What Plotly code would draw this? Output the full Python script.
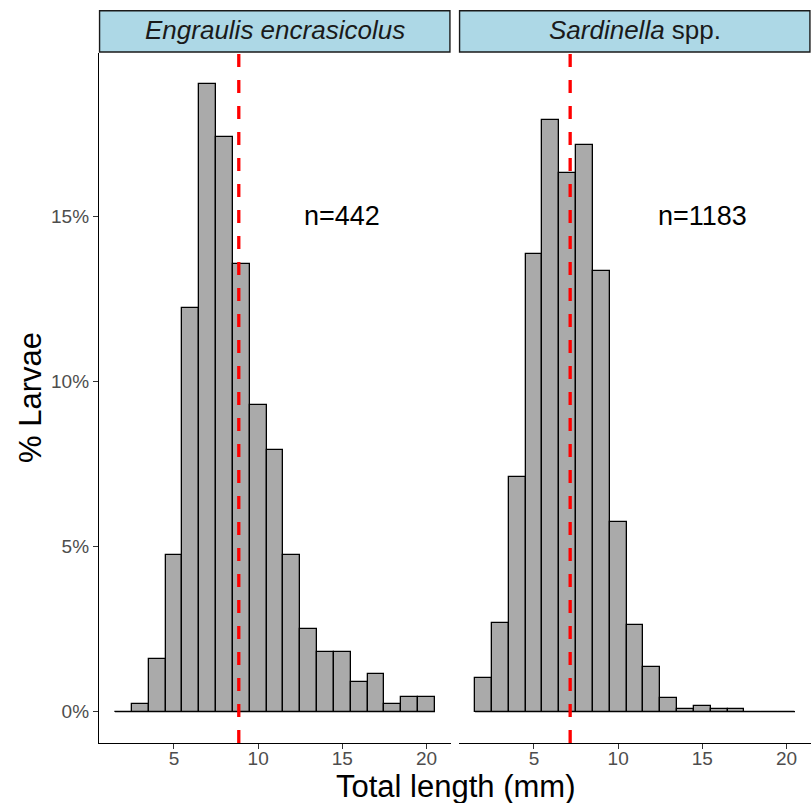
import plotly.graph_objects as go

# ---- data ----
lengths_mm = [2, 3, 4, 5, 6, 7, 8, 9, 10, 11, 12, 13, 14, 15, 16, 17, 18, 19, 20]
engraulis_pct = [0, 0.23, 1.58, 4.75, 12.22, 19.00, 17.42, 13.57, 9.28, 7.92,
                 4.75, 2.49, 1.81, 1.81, 0.90, 1.13, 0.23, 0.45, 0.45]
sardinella_pct = [1.01, 2.70, 7.10, 13.86, 17.92, 16.31, 17.16, 13.36, 5.75, 2.62,
                  1.35, 0.42, 0.08, 0.17, 0.08, 0.08, 0, 0, 0]
species_labels = ["<i>Engraulis encrasicolus</i>", "<i>Sardinella</i> spp."]
n_labels = ["n=442", "n=1183"]
mean_lengths = [8.85, 7.15]
x_ticks = [5, 10, 15, 20]
y_ticks = [0, 5, 10, 15]
y_tick_labels = ["0%", "5%", "10%", "15%"]

FONT = "Liberation Sans, Arial, sans-serif"
BAR_FILL = "#AAAAAA"

fig = go.Figure()

panels = [("x", "y", engraulis_pct), ("x2", "y2", sardinella_pct)]
edge_lo = lengths_mm[0] - 0.5
edge_hi = lengths_mm[-1] + 0.5
for xa, ya, vals in panels:
    fig.add_trace(go.Scatter(x=[edge_lo, edge_hi], y=[0, 0], mode="lines",
                             line=dict(color="black", width=1.3),
                             xaxis=xa, yaxis=ya, showlegend=False, hoverinfo="skip"))
    fig.add_trace(go.Bar(x=lengths_mm, y=vals, width=1,
                         marker=dict(color=BAR_FILL, line=dict(color="black", width=1.3)),
                         xaxis=xa, yaxis=ya, showlegend=False))

x_range = [0.55, 21.45]
y_range = [-0.95, 19.95]
dom_left = [0, 352 / 712]
dom_right = [360 / 712, 1]

axis_common = dict(range=x_range, tickvals=x_ticks, ticks="outside", ticklen=5,
                   tickcolor="#333333", tickwidth=1.2, showline=True, linecolor="black",
                   linewidth=1.3, showgrid=False, zeroline=False, ticklabelstandoff=-7,
                   tickfont=dict(family=FONT, size=19, color="#4D4D4D"))

fig.update_layout(
    width=811, height=803,
    margin=dict(l=99, r=0, t=53, b=60),
    paper_bgcolor="white", plot_bgcolor="white",
    bargap=0,
    xaxis=dict(domain=dom_left, anchor="y", **axis_common),
    xaxis2=dict(domain=dom_right, anchor="y2", **axis_common),
    yaxis=dict(range=y_range, tickmode="array", tickvals=y_ticks, ticktext=y_tick_labels,
               ticks="outside", ticklen=5,
               tickcolor="#333333", tickwidth=1.2, showline=True, linecolor="black",
               linewidth=1.3, showgrid=False, zeroline=False,
               tickfont=dict(family=FONT, size=19, color="#4D4D4D")),
    yaxis2=dict(range=y_range, anchor="x2", visible=False, showgrid=False, zeroline=False),
)

shapes = []
annotations = []
for i, (xa, ya, vals) in enumerate(panels):
    dom = dom_left if i == 0 else dom_right
    shapes.append(dict(type="line", xref=xa, yref=f"{ya} domain",
                       x0=mean_lengths[i], x1=mean_lengths[i], y0=0, y1=1,
                       line=dict(color="#FF0000", width=3.3, dash="13px,13px")))
    shapes.append(dict(type="rect", xref="paper", yref="paper",
                       x0=dom[0] + 0.0008, x1=dom[1] - 0.0015, y0=1.0015, y1=1.0613,
                       fillcolor="#ADD8E6", line=dict(color="#1a1a1a", width=1.4)))
    annotations.append(dict(text=species_labels[i], xref="paper", yref="paper",
                            x=(dom[0] + dom[1]) / 2, y=1.0339, xanchor="center",
                            yanchor="middle", showarrow=False,
                            font=dict(family=FONT, size=26, color="#1A1A1A")))
    annotations.append(dict(text=n_labels[i], xref=xa, yref=ya, x=15, y=15,
                            xanchor="center", yanchor="middle", showarrow=False,
                            font=dict(family=FONT, size=27, color="black")))

annotations.append(dict(text="Total length (mm)", xref="paper", yref="paper",
                        x=0.5, y=0, xanchor="center", yanchor="middle", yshift=-43,
                        showarrow=False, font=dict(family=FONT, size=31, color="black")))
annotations.append(dict(text="% Larvae", xref="paper", yref="paper",
                        x=0, y=0.5, xanchor="center", yanchor="middle", xshift=-69,
                        textangle=-90, showarrow=False,
                        font=dict(family=FONT, size=31, color="black")))

fig.update_layout(shapes=shapes, annotations=annotations)
fig.write_html("out.html", config={"displayModeBar": False})

# remove default page margin so the figure sits at the window's top-left corner
with open("out.html", "r", encoding="utf-8") as f:
    html = f.read()
html = html.replace("<head>", "<head><style>html,body{margin:0;padding:0;overflow:hidden;}</style>", 1)
with open("out.html", "w", encoding="utf-8") as f:
    f.write(html)
